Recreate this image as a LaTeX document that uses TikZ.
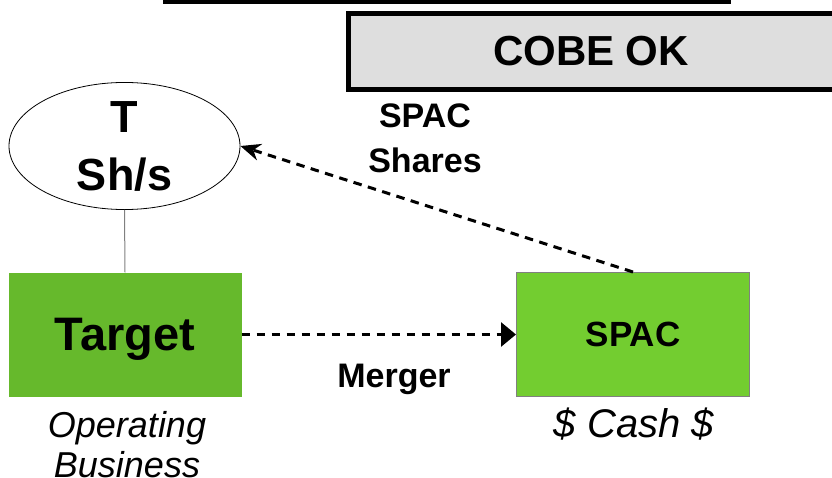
\documentclass[tikz,border=0pt]{standalone}
\usepackage{fontspec}
\setmainfont{Liberation Sans}
\usepackage{xcolor}
\usepackage{tikz}
\usetikzlibrary{shapes}
\usetikzlibrary{positioning}
\usetikzlibrary{arrows.meta}
\definecolor{targetgreen}{RGB}{102,185,44}
\definecolor{spacgreen}{RGB}{115,205,48}
\definecolor{cobegray}{RGB}{222,222,222}

\begin{document}
\begin{tikzpicture}[x=1pt,y=-1pt,
  greenbox/.style={rectangle,inner sep=0pt,minimum width=233pt,minimum height=124pt,text depth=0pt},
  flow/.style={line width=3pt,dash pattern=on 8.5pt off 6.5pt},
  caption/.style={inner sep=0pt,align=center,font=\itshape}]
\useasboundingbox (0,0) rectangle (832,478);
\clip (0,0) rectangle (832,478);
\coordinate (ruleL) at (163,2);
\coordinate (ruleR) at (731,2);
\draw[line width=4pt] (ruleL)--(ruleR);
\node[draw,line width=5pt,fill=cobegray,minimum width=486pt,minimum height=76pt,inner sep=0pt,
  font=\bfseries\fontsize{42}{46}\selectfont] (cobe) at (591,51.5) {COBE OK};
\node[draw,ellipse,line width=.8pt,inner sep=0pt,minimum width=231pt,minimum height=122pt,
  align=center,font=\bfseries\fontsize{45}{58}\selectfont] (tsh) at (124.5,146) {T\\Sh/s};
\node[greenbox,fill=targetgreen,font=\bfseries\fontsize{47}{50}\selectfont] (target) at (125,334.5) {Target};
\node[greenbox,fill=spacgreen,draw=gray,line width=1pt,font=\bfseries\fontsize{35}{40}\selectfont] (spac) at (633,334.5) {SPAC};
\draw[gray,line width=1pt] (tsh.south)--(target.north);
\draw[flow,-{Triangle[length=15pt,width=24pt]}] (target)--(spac);
\draw[flow,-{Stealth[length=20pt,width=17pt]}] (spac.north)--(tsh.east);
\node[inner sep=0pt,align=center,anchor=north,font=\bfseries\fontsize{34}{45}\selectfont] (shares) at (425,104) {SPAC\\Shares};
\node[inner sep=0pt,anchor=base,font=\bfseries\fontsize{34}{40}\selectfont] (merger) at (394,387) {Merger};
\node[caption,anchor=north,font=\itshape\fontsize{36}{40}\selectfont] (opbiz) at (127,411.5) {Operating\\Business};
\node[caption,anchor=base,font=\itshape\fontsize{40}{44}\selectfont] (cash) at (634,437) {\$ Cash \$};
\end{tikzpicture}
\end{document}
